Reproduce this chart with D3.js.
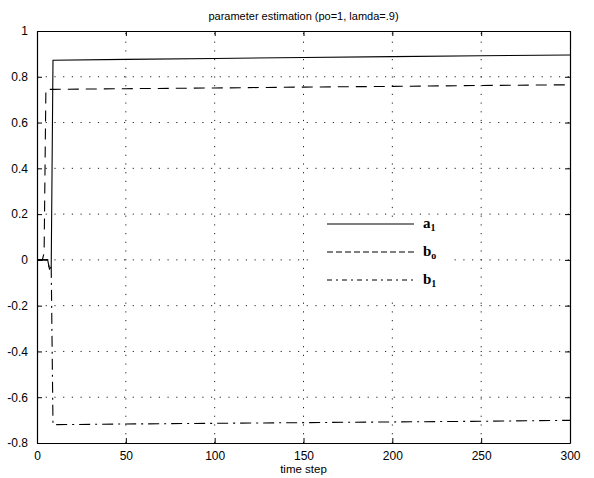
<!DOCTYPE html>
<html>
<head>
<meta charset="utf-8">
<script src="https://cdn.jsdelivr.net/npm/d3@7"></script>
<style>
html,body{margin:0;padding:0;background:#fff;}
svg{display:block;}
</style>
</head>
<body>
<svg id="chart" width="594" height="478"></svg>
<script>
// ---- data ----
const xTicks = [0, 50, 100, 150, 200, 250, 300];
const yTicks = [-0.8, -0.6, -0.4, -0.2, 0, 0.2, 0.4, 0.6, 0.8, 1];
const yTickLabels = ["-0.8", "-0.6", "-0.4", "-0.2", "0", "0.2", "0.4", "0.6", "0.8", "1"];

const a1Time  = [0, 6, 7, 8, 9, 50, 100, 150, 200, 250, 300];
const a1Value = [0, 0, -0.04, -0.03, 0.872, 0.876, 0.880, 0.884, 0.888, 0.892, 0.895];

const b0Time  = [0, 3, 4, 5, 9, 50, 100, 150, 200, 250, 300];
const b0Value = [0, 0, 0.03, 0.745, 0.745, 0.748, 0.751, 0.755, 0.758, 0.762, 0.765];

const b1Time  = [0, 6, 7, 8, 9, 50, 100, 150, 200, 250, 300];
const b1Value = [0, 0, -0.04, -0.03, -0.72, -0.717, -0.714, -0.711, -0.708, -0.705, -0.701];

const seriesNames = ["a", "b", "b"];
const seriesSubs  = ["1", "o", "1"];

const titleText = "parameter estimation (po=1, lamda=.9)";
const xLabelText = "time step";

// ---- layout ----
const svg = d3.select("#chart");
const L = 37, R = 570, T = 31, B = 443;
const x = d3.scaleLinear().domain([0, 300]).range([L, R]);
const y = d3.scaleLinear().domain([-0.8, 1]).range([B, T]);

const font = "'Liberation Sans', Arial, sans-serif";

// grid
const grid = svg.append("g").attr("stroke", "#222").attr("stroke-width", 1)
  .attr("stroke-dasharray", "1.2,7.5").attr("fill", "none");
xTicks.slice(1, -1).forEach(t => {
  grid.append("line").attr("x1", x(t)).attr("x2", x(t)).attr("y1", B).attr("y2", T);
});
yTicks.slice(1, -1).forEach(t => {
  grid.append("line").attr("x1", L).attr("x2", R).attr("y1", y(t)).attr("y2", y(t));
});

// series
const line = d3.line().x(d => x(d[0])).y(d => y(d[1]));
const series = [
  {t: a1Time, v: a1Value, dash: null},
  {t: b0Time, v: b0Value, dash: "11,7"},
  {t: b1Time, v: b1Value, dash: "11,5,2,5"}
];
series.forEach(s => {
  const pts = s.t.map((t, i) => [t, s.v[i]]);
  svg.append("path").attr("d", line(pts)).attr("fill", "none")
    .attr("stroke", "#000").attr("stroke-width", 1.1)
    .attr("stroke-dasharray", s.dash);
});

// axes box with inward ticks
const tickLen = 5;
const axL = svg.append("g").attr("transform", `translate(${L},0)`)
  .call(d3.axisLeft(y).tickValues(yTicks).tickFormat((d, i) => yTickLabels[i])
    .tickSizeInner(-tickLen).tickSizeOuter(0).tickPadding(tickLen + 4));
const axR = svg.append("g").attr("transform", `translate(${R},0)`)
  .call(d3.axisRight(y).tickValues(yTicks).tickFormat("").tickSizeInner(-tickLen).tickSizeOuter(0));
const axB = svg.append("g").attr("transform", `translate(0,${B})`)
  .call(d3.axisBottom(x).tickValues(xTicks).tickFormat(d3.format("d"))
    .tickSizeInner(-tickLen).tickSizeOuter(0).tickPadding(tickLen + 3));
const axT = svg.append("g").attr("transform", `translate(0,${T})`)
  .call(d3.axisTop(x).tickValues(xTicks).tickFormat("").tickSizeInner(-tickLen).tickSizeOuter(0));
[axL, axR, axB, axT].forEach(a => {
  a.selectAll("path.domain").attr("stroke", "#000").attr("stroke-width", 1.2);
  a.selectAll(".tick line").attr("stroke", "#000");
  a.selectAll("text").attr("font-family", font).attr("font-size", 12).attr("fill", "#000");
});

// legend
const lg = svg.append("g");
lg.append("rect").attr("x", 309).attr("y", 217).attr("width", 140).attr("height", 80)
  .attr("fill", "#fff");
const legY = [224, 252, 280];
const legDash = [null, "6,3", "5,4,2,4"];
legY.forEach((ly, i) => {
  lg.append("line").attr("x1", 327).attr("x2", 414).attr("y1", ly).attr("y2", ly)
    .attr("stroke", "#000").attr("stroke-width", 1.1).attr("stroke-dasharray", legDash[i]);
  const tx = lg.append("text").attr("x", 423).attr("y", ly + 4)
    .attr("font-family", "'Liberation Serif', 'Times New Roman', serif")
    .attr("font-weight", "bold").attr("font-size", 15).attr("fill", "#000");
  tx.append("tspan").text(seriesNames[i]);
  tx.append("tspan").attr("font-size", 10).attr("dy", 3).text(seriesSubs[i]);
});

// title and x label
svg.append("text").attr("x", (L + R) / 2).attr("y", 20).attr("text-anchor", "middle")
  .attr("font-family", font).attr("font-size", 11).text(titleText);
svg.append("text").attr("x", (L + R) / 2).attr("y", 473).attr("text-anchor", "middle")
  .attr("font-family", font).attr("font-size", 11.5).text(xLabelText);
</script>
</body>
</html>
